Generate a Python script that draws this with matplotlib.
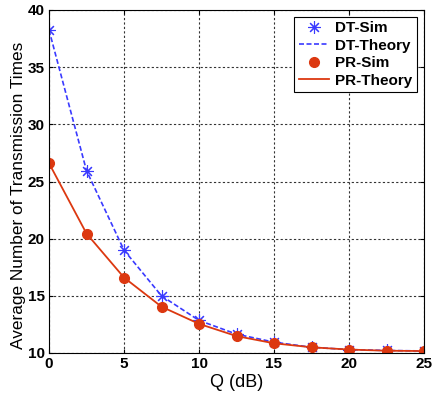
import matplotlib
matplotlib.use("Agg")
import matplotlib.pyplot as plt

q = [0, 2.5, 5, 7.5, 10, 12.5, 15, 17.5, 20, 22.5, 25]
dt_sim = [38.25, 25.95, 19.0, 15.0, 12.85, 11.65, 10.95, 10.5, 10.3, 10.22, 10.18]
dt_theory = [38.25, 25.95, 19.0, 15.0, 12.85, 11.65, 10.95, 10.5, 10.3, 10.22, 10.18]
pr_sim = [26.6, 20.45, 16.6, 14.05, 12.55, 11.48, 10.85, 10.5, 10.3, 10.2, 10.17]
pr_theory = [26.6, 20.45, 16.6, 14.05, 12.55, 11.48, 10.85, 10.5, 10.3, 10.2, 10.17]

plt.rcParams['font.family'] = ['Liberation Sans', 'DejaVu Sans']

blue = '#3a3aff'
red = '#dc3810'

fig = plt.figure(figsize=(4.32, 3.95), dpi=100)
ax = fig.add_axes([49/432, 1-353/395, (424-49)/432, (353-10)/395])

ax.plot(q, dt_sim, linestyle='none', marker=(8, 2, 0), color=blue, markersize=9,
        markeredgewidth=0.8, label='DT-Sim')
ax.plot(q, dt_theory, linestyle=(0, (3, 1.5)), color=blue, linewidth=1.2, label='DT-Theory')
ax.plot(q, pr_sim, linestyle='none', marker='o', color=red, markersize=7, label='PR-Sim')
ax.plot(q, pr_theory, linestyle='-', color=red, linewidth=1.3, label='PR-Theory')

ax.set_xlim(0, 25)
ax.set_ylim(10, 40)
ax.set_xticks([0, 5, 10, 15, 20, 25])
ax.set_yticks([10, 15, 20, 25, 30, 35, 40])
ax.grid(True, linestyle=(0, (2, 2)), color='#333333', linewidth=0.8)
ax.tick_params(direction='in', length=3, labelsize=11, top=True, right=True, pad=3)
for lab in ax.get_xticklabels() + ax.get_yticklabels():
    lab.set_fontweight('bold')
ax.set_xlabel('Q (dB)', fontsize=13, labelpad=2)
ax.set_ylabel('Average Number of Transmission Times', fontsize=12.4)
ax.yaxis.set_label_coords(-0.062, 0.46)
for s in ax.spines.values():
    s.set_linewidth(0.8)

leg = ax.legend(loc='upper right', prop={'weight': 'bold', 'size': 11},
                frameon=True, fancybox=False, edgecolor='black', framealpha=1,
                handlelength=2.0, borderpad=0.3, labelspacing=0.22, borderaxespad=0.45,
                handletextpad=0.4)
leg.get_frame().set_linewidth(0.8)

fig.savefig('out.png', dpi=100)
